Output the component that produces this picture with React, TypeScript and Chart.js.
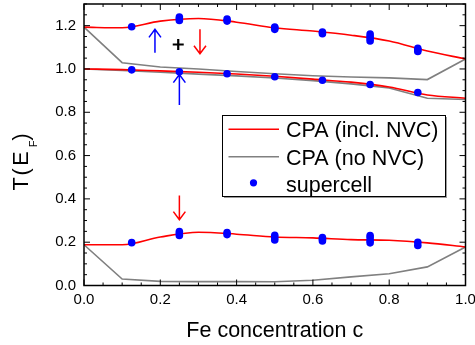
import React, { useEffect, useRef } from 'react';
import { Chart, registerables } from 'chart.js';

Chart.register(...registerables);

const FONT = '"Liberation Sans", Arial, Helvetica, sans-serif';

// CPA curves (sampled every 0.1 in c)
const cpaX = [0, 0.1, 0.2, 0.3, 0.4, 0.5, 0.6, 0.7, 0.8, 0.9, 1.0];
const nvcUpper = [1.193, 1.19, 1.221, 1.233, 1.216, 1.19, 1.175, 1.156, 1.129, 1.083, 1.046];
const nvcMiddle = [1.0, 0.997, 0.991, 0.985, 0.977, 0.966, 0.953, 0.939, 0.917, 0.88, 0.865];
const nvcLower = [0.188, 0.188, 0.224, 0.246, 0.237, 0.224, 0.22, 0.212, 0.209, 0.197, 0.178];
const noNvcUpper = [1.193, 1.029, 1.009, 1.0, 0.988, 0.978, 0.969, 0.963, 0.959, 0.951, 1.046];
const noNvcMiddle = [1.0, 0.993, 0.985, 0.976, 0.968, 0.958, 0.946, 0.931, 0.912, 0.865, 0.859];
const noNvcLower = [0.188, 0.03, 0.019, 0.018, 0.018, 0.017, 0.024, 0.04, 0.054, 0.086, 0.178];

// supercell results
const scX = [0.125, 0.25, 0.375, 0.5, 0.625, 0.75, 0.875];
const scUpper = [[1.195], [1.224, 1.232, 1.24], [1.221, 1.23], [1.183, 1.19, 1.194], [1.163, 1.17], [1.129, 1.14, 1.15, 1.161], [1.081, 1.088, 1.095]];
const scMiddle = [[0.996], [0.987], [0.978], [0.964], [0.948], [0.928], [0.891]];
const scLower = [[0.198], [0.231, 0.24, 0.249], [0.235, 0.245], [0.21, 0.22, 0.232], [0.206, 0.214, 0.222], [0.197, 0.208, 0.22, 0.231], [0.185, 0.2]];

// tick labels
const xTickValues = [0, 0.2, 0.4, 0.6, 0.8, 1.0];
const yTickValues = [0, 0.2, 0.4, 0.6, 0.8, 1.0, 1.2];

// annotation arrows (in data coordinates)
const arrows = [
  { x: 0.186, from: 1.075, to: 1.183, color: '#0000ff' },
  { x: 0.304, from: 1.183, to: 1.07, color: '#ff0000' },
  { x: 0.25, from: 0.834, to: 0.974, color: '#0000ff' },
  { x: 0.25, from: 0.416, to: 0.304, color: '#ff0000' },
];
const plusMark = { x: 0.247, y: 1.113 };

const legendItems = [
  { label: 'CPA (incl. NVC)', kind: 'line', color: '#ff0000' },
  { label: 'CPA (no NVC)', kind: 'line', color: '#808080' },
  { label: 'supercell', kind: 'dot', color: '#0000ff' },
];

function linePts(ys: number[]) {
  return cpaX.map((x, i) => ({ x, y: ys[i] }));
}

function scPts() {
  const pts: { x: number; y: number }[] = [];
  [scUpper, scMiddle, scLower].forEach((group) => {
    group.forEach((vals, i) => vals.forEach((y) => pts.push({ x: scX[i], y })));
  });
  return pts;
}

const decorPlugin = {
  id: 'decor',
  afterDraw(chart: any) {
    const ctx = chart.ctx as CanvasRenderingContext2D;
    const { left, right, top, bottom } = chart.chartArea;
    const xs = chart.scales.x;
    const ys = chart.scales.y;
    ctx.save();

    // frame
    ctx.strokeStyle = '#000';
    ctx.lineWidth = 1.5;
    ctx.strokeRect(left, top, right - left, bottom - top);

    // inward ticks on all sides
    ctx.lineWidth = 1;
    ctx.beginPath();
    for (let k = 0; k <= 20; k++) {
      const v = k * 0.05;
      const px = xs.getPixelForValue(v);
      const len = k % 4 === 0 ? 6 : 3;
      ctx.moveTo(px, bottom);
      ctx.lineTo(px, bottom - len);
      ctx.moveTo(px, top);
      ctx.lineTo(px, top + len);
    }
    for (let k = 0; k <= 26; k++) {
      const v = k * 0.05;
      const py = ys.getPixelForValue(v);
      const len = k % 4 === 0 ? 6 : 3;
      ctx.moveTo(left, py);
      ctx.lineTo(left + len, py);
      ctx.moveTo(right, py);
      ctx.lineTo(right - len, py);
    }
    ctx.stroke();

    // arrows
    arrows.forEach((a) => {
      const px = xs.getPixelForValue(a.x);
      const p0 = ys.getPixelForValue(a.from);
      const p1 = ys.getPixelForValue(a.to);
      const dir = p1 < p0 ? 1 : -1; // 1 = pointing up
      ctx.strokeStyle = a.color;
      ctx.lineWidth = 1.5;
      ctx.beginPath();
      ctx.moveTo(px, p0);
      ctx.lineTo(px, p1);
      ctx.moveTo(px - 6, p1 + dir * 8);
      ctx.lineTo(px, p1);
      ctx.lineTo(px + 6, p1 + dir * 8);
      ctx.stroke();
    });

    // plus mark
    {
      const px = xs.getPixelForValue(plusMark.x);
      const py = ys.getPixelForValue(plusMark.y);
      ctx.strokeStyle = '#000';
      ctx.lineWidth = 2.2;
      ctx.beginPath();
      ctx.moveTo(px - 5.5, py);
      ctx.lineTo(px + 5.5, py);
      ctx.moveTo(px, py - 5.5);
      ctx.lineTo(px, py + 5.5);
      ctx.stroke();
    }

    // legend
    const lx = 222, ly = 115, lw = 223, lh = 81;
    ctx.fillStyle = '#fff';
    ctx.fillRect(lx, ly, lw, lh);
    ctx.strokeStyle = '#9a9a9a';
    ctx.lineWidth = 1.5;
    ctx.beginPath();
    ctx.moveTo(lx + lw + 1.2, ly + 2);
    ctx.lineTo(lx + lw + 1.2, ly + lh + 1.2);
    ctx.lineTo(lx + 2, ly + lh + 1.2);
    ctx.stroke();
    ctx.strokeStyle = '#000';
    ctx.lineWidth = 1;
    ctx.strokeRect(lx + 0.5, ly + 0.5, lw, lh);
    ctx.font = `21.5px ${FONT}`;
    ctx.textAlign = 'left';
    ctx.textBaseline = 'alphabetic';
    legendItems.forEach((it, i) => {
      const cy = 129.3 + i * 27.5;
      if (it.kind === 'line') {
        ctx.strokeStyle = it.color;
        ctx.lineWidth = 1.5;
        ctx.beginPath();
        ctx.moveTo(228.5, cy);
        ctx.lineTo(279, cy);
        ctx.stroke();
      } else {
        ctx.fillStyle = it.color;
        ctx.beginPath();
        ctx.arc(253.5, cy - 1.5, 3.6, 0, Math.PI * 2);
        ctx.fill();
      }
      ctx.fillStyle = '#000';
      ctx.fillText(it.label, 286, cy + 8);
    });

    // x-axis title
    ctx.fillStyle = '#000';
    ctx.font = `21.5px ${FONT}`;
    ctx.textAlign = 'center';
    ctx.fillText('Fe concentration c', (left + right) / 2, 337);

    // y-axis title T(E_F)
    ctx.save();
    ctx.translate(28.3, 0);
    ctx.rotate(-Math.PI / 2);
    ctx.textAlign = 'center';
    ctx.font = `21.5px ${FONT}`;
    ctx.fillText('T', -184, 0);
    ctx.fillText('(', -172, 0);
    ctx.fillText('E', -158.5, 0);
    ctx.fillText(')', -137, 0);
    ctx.font = `11px ${FONT}`;
    ctx.fillText('F', -144, 9);
    ctx.restore();

    ctx.restore();
  },
};

export default function App() {
  const ref = useRef<HTMLCanvasElement | null>(null);
  useEffect(() => {
    if (!ref.current) return;
    const red = '#ff0000';
    const gray = '#808080';
    const mkLine = (ys: number[], color: string, order: number, smooth: boolean) => ({
      type: 'line' as const,
      data: linePts(ys),
      borderColor: color,
      backgroundColor: color,
      borderWidth: 1.6,
      pointRadius: 0,
      fill: false,
      order,
      tension: 0,
      cubicInterpolationMode: smooth ? ('monotone' as const) : ('default' as const),
    });
    const chart = new Chart(ref.current, {
      type: 'line',
      data: {
        datasets: [
          {
            type: 'scatter' as const,
            data: scPts(),
            showLine: false,
            pointRadius: 3.8,
            pointBackgroundColor: '#0000ff',
            pointBorderColor: '#0000ff',
            pointBorderWidth: 0,
            order: 0,
          } as any,
          mkLine(nvcUpper, red, 1, true),
          mkLine(nvcMiddle, red, 1, true),
          mkLine(nvcLower, red, 1, true),
          mkLine(noNvcUpper, gray, 2, false),
          mkLine(noNvcMiddle, gray, 2, false),
          mkLine(noNvcLower, gray, 2, false),
        ],
      },
      options: {
        animation: false,
        responsive: false,
        maintainAspectRatio: false,
        layout: { padding: { left: 0, right: 9.5, top: 2.7, bottom: 0 } },
        plugins: { legend: { display: false }, tooltip: { enabled: false } },
        scales: {
          x: {
            type: 'linear',
            min: 0,
            max: 1,
            afterBuildTicks: (s: any) => {
              s.ticks = xTickValues.map((v) => ({ value: v }));
            },
            afterFit: (s: any) => {
              s.height = 59.5;
              s.paddingLeft = 0;
              s.paddingRight = 0;
            },
            ticks: {
              callback: (v: any) => Number(v).toFixed(1),
              font: { family: FONT, size: 15 },
              color: '#000',
              padding: 5,
              maxRotation: 0,
              autoSkip: false,
            },
            grid: { display: false, drawTicks: false },
            border: { display: false },
          },
          y: {
            type: 'linear',
            min: 0,
            max: 1.3,
            afterBuildTicks: (s: any) => {
              s.ticks = yTickValues.map((v) => ({ value: v }));
            },
            afterFit: (s: any) => {
              s.width = 84;
              s.paddingTop = 0;
              s.paddingBottom = 0;
            },
            ticks: {
              callback: (v: any) => Number(v).toFixed(1),
              font: { family: FONT, size: 15 },
              color: '#000',
              padding: 8,
              autoSkip: false,
            },
            grid: { display: false, drawTicks: false },
            border: { display: false },
          },
        },
      },
      plugins: [decorPlugin],
    });
    return () => chart.destroy();
  }, []);
  return (
    <div style={{ position: 'fixed', left: 0, top: 0, width: 475, height: 345, background: '#fff' }}>
      <canvas ref={ref} width={475} height={345} style={{ display: 'block' }} />
    </div>
  );
}
